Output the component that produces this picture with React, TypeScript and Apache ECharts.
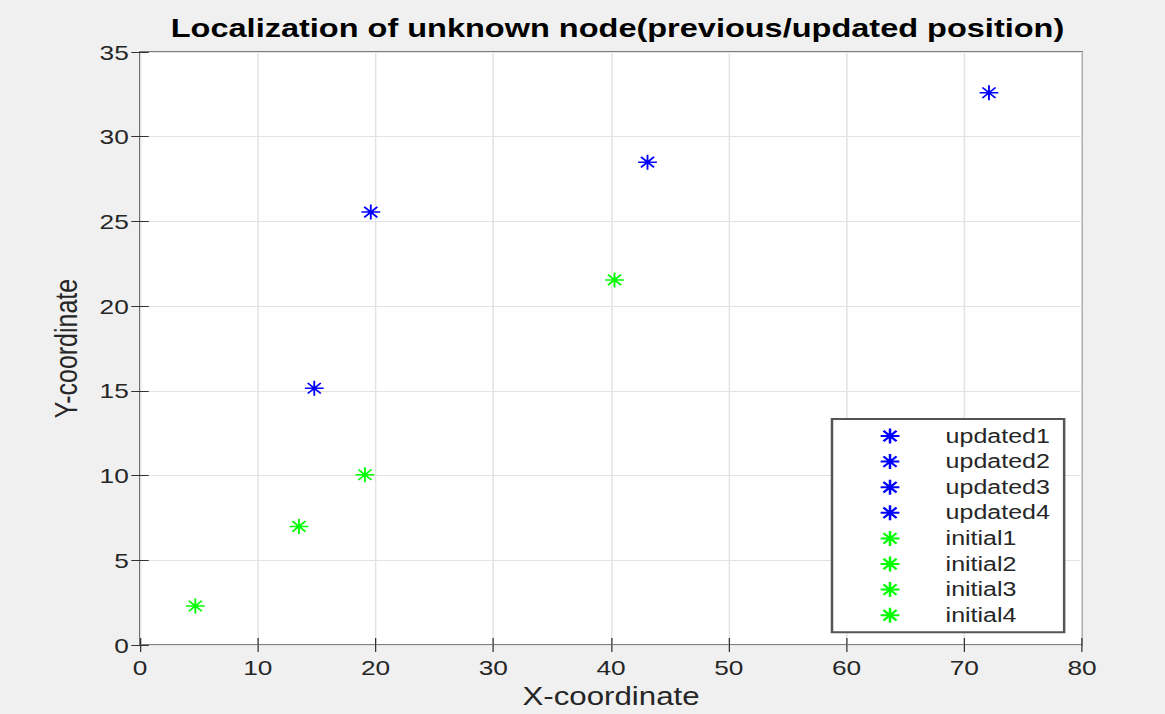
import React, { useEffect, useRef } from "react";
import * as echarts from "echarts";

const seriesNames = ["updated1", "updated2", "updated3", "updated4", "initial1", "initial2", "initial3", "initial4"];
const seriesColors = ["#0000ff", "#0000ff", "#0000ff", "#0000ff", "#00ff00", "#00ff00", "#00ff00", "#00ff00"];
const pointsX = [14.8, 19.6, 43.1, 72.1, 4.7, 13.5, 19.1, 40.3];
const pointsY = [15.15, 25.55, 28.5, 32.6, 2.3, 7.0, 10.05, 21.55];
const xTicks = { min: 0, max: 80, interval: 10 };
const yTicks = { min: 0, max: 35, interval: 5 };

const ASTERISK = "path://M0,-10L0,10M-10,0L10,0M-7,-7L7,7M-7,7L7,-7";
const FONT = "'Liberation Sans', Arial, Helvetica, sans-serif";

// The reference figure is horizontally stretched; lay out in unstretched space, then stretch.
const STRETCH = 1.25;
const W = 1165 / STRETCH;
const H = 714;

export default function App() {
  const ref = useRef<HTMLDivElement>(null);
  useEffect(() => {
    if (!ref.current) return;
    const chart = echarts.init(ref.current, undefined, { renderer: "svg" });
    const axisCommon = {
      axisLine: { show: false },
      axisTick: { show: true, inside: true, length: 7, lineStyle: { color: "#333", width: 1 } },
      splitLine: { show: true, lineStyle: { color: "#e3e3e3", width: 1.2 } },
    };
    const series = seriesNames.map((name, i) => ({
      name,
      type: "scatter",
      xAxisIndex: 0,
      yAxisIndex: 0,
      data: [[pointsX[i], pointsY[i]]],
      symbol: ASTERISK,
      symbolSize: 15,
      itemStyle: { color: "none", borderColor: seriesColors[i], borderWidth: 1.5, opacity: 1 },
    }));
    chart.setOption({
      animation: false,
      backgroundColor: "#f0f0f0",
      title: {
        text: "Localization of unknown node(previous/updated position)",
        left: 489,
        textAlign: "center",
        top: 10,
        textStyle: { fontFamily: FONT, fontSize: 26, fontWeight: "bold", color: "#000" },
      },
      grid: {
        left: 112,
        right: W - 865.6,
        top: 52,
        bottom: 64,
        show: true,
        backgroundColor: "#ffffff",
        borderColor: "#555",
        borderWidth: 1.5,
      },
      legend: {
        orient: "vertical",
        left: 665.6,
        top: 419,
        padding: [7, 11.4, 7, 36.4],
        backgroundColor: "#ffffff",
        borderColor: "#555",
        borderWidth: 2,
        itemWidth: 33,
        itemHeight: 15,
        itemGap: 5.6,
        data: seriesNames,
        textStyle: {
          fontFamily: FONT,
          fontSize: 20,
          lineHeight: 20,
          color: "#262626",
          padding: [0, 0, 0, 23],
        },
      },
      xAxis: [
        {
          type: "value",
          ...xTicks,
          position: "bottom",
          ...axisCommon,
          axisLabel: { fontFamily: FONT, fontSize: 21, color: "#262626", margin: 12 },
          name: "X-coordinate",
          nameLocation: "middle",
          nameGap: 39,
          nameTextStyle: { fontFamily: FONT, fontSize: 25, color: "#262626" },
        },
        {
          type: "value",
          ...xTicks,
          position: "top",
          ...axisCommon,
          splitLine: { show: false },
          axisLabel: { show: false },
        },
      ],
      yAxis: [
        {
          type: "value",
          ...yTicks,
          position: "left",
          ...axisCommon,
          axisLabel: { fontFamily: FONT, fontSize: 21, color: "#262626", margin: 9 },
          name: "Y-coordinate",
          nameLocation: "middle",
          nameGap: 47,
          nameTextStyle: { fontFamily: FONT, fontSize: 25, color: "#262626" },
        },
        {
          type: "value",
          ...yTicks,
          position: "right",
          ...axisCommon,
          splitLine: { show: false },
          axisLabel: { show: false },
        },
      ],
      series,
    });
    return () => chart.dispose();
  }, []);
  return (
    <div
      style={{
        position: "fixed",
        left: 0,
        top: 0,
        width: 1165,
        height: 714,
        overflow: "hidden",
        background: "#f0f0f0",
      }}
    >
      <div
        ref={ref}
        style={{
          width: W,
          height: H,
          transform: `scaleX(${STRETCH})`,
          transformOrigin: "0 0",
        }}
      />
    </div>
  );
}
